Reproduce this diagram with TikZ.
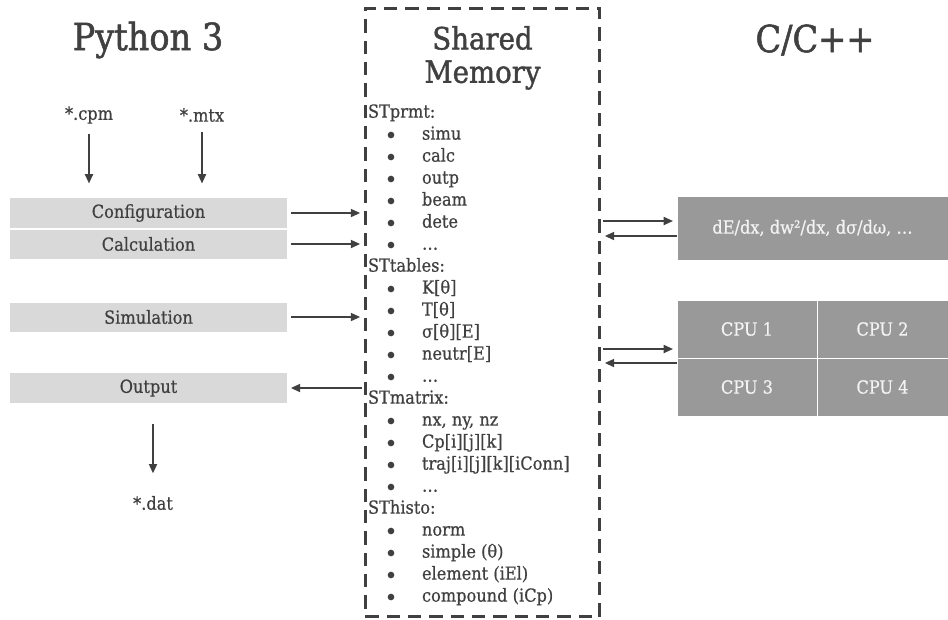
\documentclass[tikz,border=0pt]{standalone}
\usepackage{fontspec}
\setmainfont[FakeBold=0.6]{DejaVu Serif Condensed}
\newfontfamily\headfont[FakeBold=1.4]{DejaVu Serif Condensed}
\usetikzlibrary{arrows.meta}
\definecolor{ink}{HTML}{404040}
\definecolor{lightbox}{HTML}{D9D9D9}
\definecolor{darkbox}{HTML}{999999}
\definecolor{paletext}{HTML}{F3F3F3}
\begin{document}
\begin{tikzpicture}[x=0.75pt,y=-0.75pt,
  every node/.style={inner sep=0pt,outer sep=0pt,text=ink},
  title/.style={font=\headfont\fontsize{28}{32}\selectfont},
  lbl/.style={font=\fontsize{13.5}{16}\selectfont},
  litem/.style={font=\fontsize{13.5}{16}\selectfont,anchor=west,text height=10pt,text depth=3pt},
  bul/.style={circle,fill=ink,minimum size=5pt},
  pybox/.style={rectangle,fill=lightbox,draw=white,line width=0.75pt,minimum width=209pt,font=\fontsize{13.5}{16}\selectfont},
  cbox/.style={rectangle,fill=darkbox,draw=white,line width=0.75pt,font=\fontsize{13.5}{16}\selectfont,text=paletext},
  arr/.style={draw=ink,line width=1.35pt,-{Triangle[length=7pt,width=6pt]}},
]
\useasboundingbox (0,0) rectangle (948,619);
% titles
\node[title] (tpy) at (148,40) {Python 3};
\node[title] (tc) at (815,40) {C/C++};
% shared memory box
\node[draw=ink,line width=2.2pt,dash pattern=on 10pt off 6pt,minimum width=176pt,minimum height=456pt] (mem) at (482.5,312.5) {};
\node[font=\headfont\fontsize{23}{28}\selectfont] (tmem) at (482.5,38) {Shared};
\node[font=\headfont\fontsize{23}{28}\selectfont] (tmem2) at (482.5,75) {Memory};
% list headers
\foreach \t/\i in {STprmt:/0,STtables:/7,STmatrix:/13,SThisto:/18}{
  \node[litem] (h\i) at (368,113+22*\i) {\t};
}
% bullets
\foreach \i in {1,...,6,8,9,...,12,14,15,...,17,19,20,...,22}{
  \node[bul] (b\i) at (391,113+22*\i) {};
}
% items
\foreach \t/\i in {simu/1,calc/2,outp/3,beam/4,dete/5,…/6,K[θ]/8,T[θ]/9,σ[θ][E]/10,neutr[E]/11,…/12,{nx, ny, nz}/14,Cp[i][j][k]/15,traj[i][j][k][iConn]/16,…/17,norm/19,simple (θ)/20,element (iEl)/21,compound (iCp)/22}{
  \node[litem] (it\i) at (422,113+22*\i) {\t};
}
% file labels
\node[lbl] (cpm) at (89,115) {*.cpm};
\node[lbl] (mtx) at (202,115) {*.mtx};
\node[lbl] (dat) at (153,503) {*.dat};
% python boxes
\node[pybox,minimum height=23.25pt] (conf) at (148.5,213) {Configuration};
\node[pybox,minimum height=22.5pt] (calc) at (148.5,244) {Calculation};
\node[pybox,minimum height=22.5pt] (sim) at (148.5,317) {Simulation};
\node[pybox,minimum height=23.25pt] (out) at (148.5,388) {Output};
% C boxes
\node[cbox,minimum width=203.25pt,minimum height=48pt] (de) at (812.5,228) {dE/dx, dw²/dx, dσ/dω, …};
\node[cbox,minimum width=105pt,minimum height=43.5pt] (cpu1) at (747,329) {CPU 1};
\node[cbox,minimum width=98.25pt,minimum height=43.5pt] (cpu2) at (882.5,329) {CPU 2};
\node[cbox,minimum width=105pt,minimum height=43.5pt] (cpu3) at (747,387) {CPU 3};
\node[cbox,minimum width=98.25pt,minimum height=43.5pt] (cpu4) at (882.5,387) {CPU 4};
% arrows python side
\draw[arr,shorten <=7.5pt,shorten >=10.5pt] (cpm.south) -- (cpm.south |- conf.north);
\draw[arr,shorten <=7.5pt,shorten >=10.5pt] (mtx.south) -- (mtx.south |- conf.north);
\draw[arr,shorten <=15pt,shorten >=17pt] (out.south -| dat.north) -- (dat.north);
\draw[arr,shorten <=2.25pt,shorten >=3.75pt] (conf.east) -- (conf.east -| mem.west);
\draw[arr,shorten <=2.25pt,shorten >=3.75pt] (calc.east) -- (calc.east -| mem.west);
\draw[arr,shorten <=2.25pt,shorten >=3.75pt] (sim.east) -- (sim.east -| mem.west);
\draw[arr,shorten <=2.25pt,shorten >=2.25pt] (out.east -| mem.west) -- (out.east);
% arrows C side
\draw[arr,shorten <=2.25pt,shorten >=3pt] (mem.east |- 0,221) -- (de.west |- 0,221);
\draw[arr,shorten <=0pt,shorten >=3.75pt] (de.west |- 0,236) -- (mem.east |- 0,236);
\draw[arr,shorten <=2.25pt,shorten >=3pt] (mem.east |- 0,349) -- (cpu1.west |- 0,349);
\draw[arr,shorten <=0pt,shorten >=3.75pt] (cpu1.west |- 0,363) -- (mem.east |- 0,363);
\end{tikzpicture}
\end{document}
